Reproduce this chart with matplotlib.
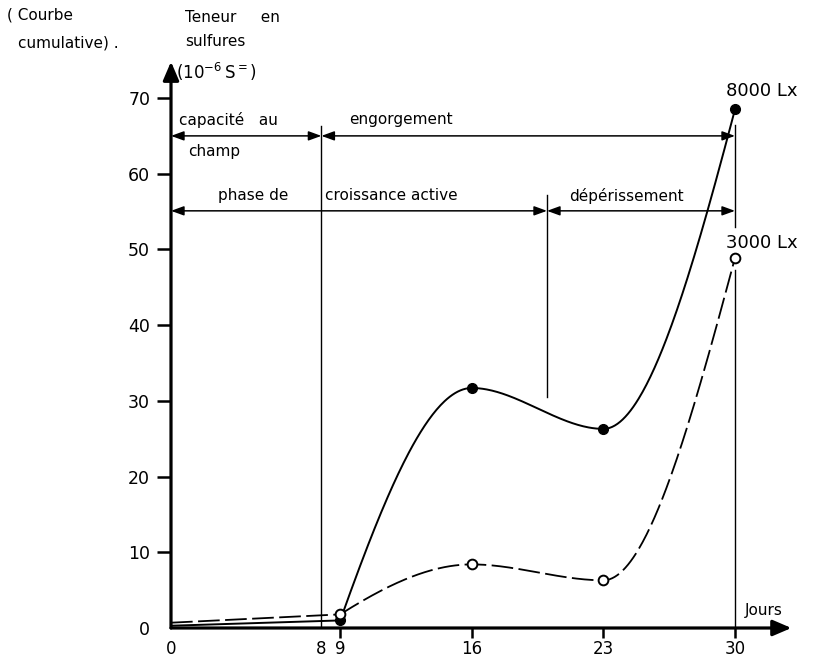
import matplotlib
matplotlib.use('Agg')
import matplotlib.pyplot as plt
import numpy as np

# days of measurement and cumulative sulphide content (10^-6 S=)
days = [0, 9, 16, 23, 30]
sulf_8000 = [0.3, 1.0, 31.7, 26.3, 68.5]
sulf_3000 = [0.7, 1.8, 8.4, 6.3, 48.9]
xtick_pos = [0, 8, 9, 16, 23, 30]
ytick_pos = [0, 10, 20, 30, 40, 50, 60, 70]

# phase boundaries (days) and levels of the arrows
bound_water = [0, 8, 30]
bound_growth = [0, 20, 30]
level_water = 65.0
level_growth = 55.1


def pchip(x, y, xs):
    # monotone cubic (Fritsch-Carlson), smooth curve through the measured points
    x = np.asarray(x, float)
    y = np.asarray(y, float)
    h = np.diff(x)
    d = np.diff(y) / h
    m = np.zeros_like(y)
    for k in range(1, len(x) - 1):
        if d[k - 1] * d[k] > 0:
            w1 = 2 * h[k] + h[k - 1]
            w2 = h[k] + 2 * h[k - 1]
            m[k] = (w1 + w2) / (w1 / d[k - 1] + w2 / d[k])

    def end(h0, h1, d0, d1):
        v = ((2 * h0 + h1) * d0 - h0 * d1) / (h0 + h1)
        if np.sign(v) != np.sign(d0):
            return 0.0
        if np.sign(d0) != np.sign(d1) and abs(v) > abs(3 * d0):
            return 3 * d0
        return v
    m[0] = end(h[0], h[1], d[0], d[1])
    m[-1] = end(h[-1], h[-2], d[-1], d[-2])
    xs = np.asarray(xs, float)
    i = np.clip(np.searchsorted(x, xs) - 1, 0, len(x) - 2)
    t = (xs - x[i]) / h[i]
    h00 = 2 * t**3 - 3 * t**2 + 1
    h10 = t**3 - 2 * t**2 + t
    h01 = -2 * t**3 + 3 * t**2
    h11 = t**3 - t**2
    return h00 * y[i] + h10 * h[i] * m[i] + h01 * y[i + 1] + h11 * h[i] * m[i + 1]


W, H = 815, 662
fig = plt.figure(figsize=(W / 100, H / 100), dpi=100)
px_x, px_y = 18.8, 7.571   # pixels per day / per unit
x0_px, y0_px = 171, 628
xmax, ymax = 34, 76.5
ax = fig.add_axes([x0_px / W, (H - y0_px) / H, xmax * px_x / W, ymax * px_y / H])
ax.set_xlim(0, xmax)
ax.set_ylim(0, ymax)
for s in ax.spines.values():
    s.set_visible(False)

# axes drawn as arrows
arrow_kw = dict(arrowstyle='-|>,head_length=0.7,head_width=0.3', lw=2.3, color='k',
                mutation_scale=16, shrinkA=0, shrinkB=0)
ax.annotate('', xy=(33.0, 0), xytext=(0, 0), arrowprops=arrow_kw, annotation_clip=False)
ax.annotate('', xy=(0, 74.8), xytext=(0, 0), arrowprops=arrow_kw, annotation_clip=False)

ax.set_xticks(xtick_pos)
ax.set_xticklabels([str(v) for v in xtick_pos])
ax.set_yticks(ytick_pos)
ax.set_yticklabels([str(v) for v in ytick_pos])
ax.tick_params(axis='x', direction='out', length=7, width=1.8, pad=1.5, labelsize=12)
ax.tick_params(axis='y', direction='out', length=10, width=1.8, pad=5, labelsize=12.5)
for t, v in zip(ax.xaxis.get_major_ticks(), xtick_pos):
    if v in (0, 8):
        t.tick1line.set_visible(False)
ax.yaxis.get_major_ticks()[0].tick1line.set_visible(False)

# curves: straight start up to day 9, then smooth
xs = np.linspace(days[1], days[-1], 300)
ax.plot(days[:2], sulf_8000[:2], color='k', lw=1.4, clip_on=False)
ax.plot(xs, pchip(days[1:], sulf_8000[1:], xs), color='k', lw=1.4, clip_on=False)
ax.plot(days[1:], sulf_8000[1:], 'o', color='k', ms=7, clip_on=False, zorder=5)

ax.plot(days[:2], sulf_3000[:2], color='k', lw=1.3, dashes=(12, 3), clip_on=False)
ax.plot(xs, pchip(days[1:], sulf_3000[1:], xs), color='k', lw=1.3, dashes=(12, 3), clip_on=False)
ax.plot(days[1:], sulf_3000[1:], 'o', mfc='white', mec='k', mew=1.4, ms=7, clip_on=False, zorder=6)

# phase boundaries
ax.plot([8, 8], [0, 66.3], color='k', lw=1.0)
ax.plot([20, 20], [30.5, 57.2], color='k', lw=1.0)
ax.plot([30, 30], [47.3, 0], color='k', lw=1.0)
ax.plot([30, 30], [53.0, 66.4], color='k', lw=1.0)

rng_kw = dict(arrowstyle='<|-|>,head_length=0.55,head_width=0.2', lw=1.1, color='k',
              mutation_scale=14, shrinkA=0, shrinkB=0)
for a, b in zip(bound_water[:-1], bound_water[1:]):
    ax.annotate('', xy=(b, level_water), xytext=(a, level_water), arrowprops=rng_kw)
for a, b in zip(bound_growth[:-1], bound_growth[1:]):
    ax.annotate('', xy=(b, level_growth), xytext=(a, level_growth), arrowprops=rng_kw)

fs = 11
ax.text(0.45, 67.1, 'capacité   au', fontsize=fs, va='center')
ax.text(0.9, 63.0, 'champ', fontsize=fs, va='center')
ax.text(9.5, 67.1, 'engorgement', fontsize=fs, va='center')
ax.text(2.5, 57.1, 'phase de', fontsize=fs, va='center')
ax.text(8.2, 57.1, 'croissance active', fontsize=fs, va='center')
ax.text(21.2, 57.1, 'dépérissement', fontsize=fs, va='center')
ax.text(29.5, 70.9, '8000 Lx', fontsize=13, va='center', clip_on=False)
ax.text(29.5, 50.9, '3000 Lx', fontsize=13, va='center', clip_on=False)
ax.text(30.5, 2.3, 'Jours', fontsize=fs, va='center', clip_on=False)

# labels above the vertical axis
fig.text(7 / W, 1 - 15 / H, '( Courbe', fontsize=fs, va='center')
fig.text(18 / W, 1 - 43 / H, 'cumulative) .', fontsize=fs, va='center')
fig.text(185 / W, 1 - 17 / H, 'Teneur     en', fontsize=fs, va='center')
fig.text(185 / W, 1 - 42 / H, 'sulfures', fontsize=fs, va='center')
fig.text(176 / W, 1 - 72 / H, r'(10$^{-6}\,$S$^{=}$)', fontsize=12, va='center')

fig.savefig('out.png', dpi=100)
